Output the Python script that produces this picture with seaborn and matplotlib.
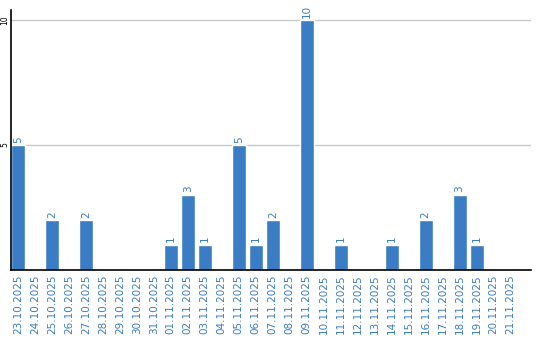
import matplotlib
matplotlib.use("Agg")
import matplotlib.pyplot as plt
import seaborn as sns
import pandas as pd

dates = ["23.10.2025", "24.10.2025", "25.10.2025", "26.10.2025", "27.10.2025",
         "28.10.2025", "29.10.2025", "30.10.2025", "31.10.2025", "01.11.2025",
         "02.11.2025", "03.11.2025", "04.11.2025", "05.11.2025", "06.11.2025",
         "07.11.2025", "08.11.2025", "09.11.2025", "10.11.2025", "11.11.2025",
         "12.11.2025", "13.11.2025", "14.11.2025", "15.11.2025", "16.11.2025",
         "17.11.2025", "18.11.2025", "19.11.2025", "20.11.2025", "21.11.2025"]
counts = [5, 0, 2, 0, 2, 0, 0, 0, 0, 1,
          3, 1, 0, 5, 1, 2, 0, 10, 0, 1,
          0, 0, 1, 0, 2, 0, 3, 1, 0, 0]
yticks = [5, 10]

BLUE = "#3b7dc4"
sns.set_theme(style="white")
plt.rcParams['font.family'] = ['DejaVu Sans']

df = pd.DataFrame({"date": dates, "count": counts})
fig = plt.figure(figsize=(5.4, 3.4), dpi=100)
ax = fig.add_axes([11/540, 70/340, 520/540, 260/340])
sns.barplot(data=df, x="date", y="count", color=BLUE, saturation=1, width=0.82, ax=ax, zorder=3)

for i, v in enumerate(counts):
    if v > 0:
        ax.text(i, v + 0.1, str(v), rotation=90, ha="center", va="bottom",
                color=BLUE, fontsize=7.5)

ax.set_xlim(-0.41, 30.2)
ax.set_ylim(0, 10.4)
ax.set_yticks(yticks)
ax.set_yticklabels([str(t) for t in yticks], rotation=90, va="center", fontsize=5.5, color="black")
ax.yaxis.grid(True, color="#c8c8c8", linewidth=1, zorder=0)
ax.set_xticks(range(len(dates)))
ax.set_xticklabels(dates, rotation=90, fontsize=7.5, color=BLUE)
ax.tick_params(axis="x", length=0, pad=3)
ax.tick_params(axis="y", length=0, pad=1)
ax.set_xlabel("")
ax.set_ylabel("")
for s in ["top", "right"]:
    ax.spines[s].set_visible(False)
for s in ["left", "bottom"]:
    ax.spines[s].set_color("black")
    ax.spines[s].set_linewidth(1.2)
    ax.spines[s].set_zorder(5)

fig.savefig("out.png", dpi=100)
